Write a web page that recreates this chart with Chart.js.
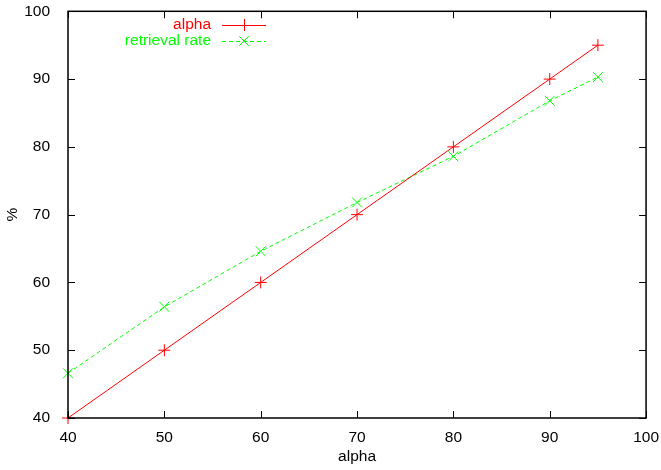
<!DOCTYPE html>
<html>
<head>
<meta charset="utf-8">
<script src="https://cdn.jsdelivr.net/npm/chart.js@4"></script>
<style>
  body { margin: 0; background: #fff; }
  #wrap { width: 661px; height: 470px; }
</style>
</head>
<body>
<div id="wrap"><canvas id="myChart" width="661" height="470"></canvas></div>
<script>
const alphaValues = [40, 50, 60, 70, 80, 90, 95]
const alphaSeries = [40, 50, 60, 70, 80, 90, 95]
const retrievalRate = [46.6, 56.4, 64.6, 71.8, 78.6, 86.8, 90.3]
const xTicks = [40, 50, 60, 70, 80, 90, 100]
const yTicks = [40, 50, 60, 70, 80, 90, 100]

const font = 'Liberation Sans, Arial, sans-serif'
const fontSize = 15.5

// gnuplot style ticks: inward, on all four sides
const innerTicks = {
    id: 'innerTicks',
    afterDraw(chart) {
        const { ctx, chartArea: a, scales } = chart
        ctx.save()
        ctx.strokeStyle = '#000'
        ctx.lineWidth = 1
        ctx.beginPath()
        xTicks.forEach(v => {
            const px = Math.round(scales.x.getPixelForValue(v)) + 0.5
            ctx.moveTo(px, a.bottom); ctx.lineTo(px, a.bottom - 7)
            ctx.moveTo(px, a.top); ctx.lineTo(px, a.top + 7)
        })
        yTicks.forEach(v => {
            const py = Math.round(scales.y.getPixelForValue(v)) + 0.5
            ctx.moveTo(a.left, py); ctx.lineTo(a.left + 7, py)
            ctx.moveTo(a.right, py); ctx.lineTo(a.right - 7, py)
        })
        ctx.stroke()
        ctx.lineWidth = 1.5
        ctx.strokeRect(a.left, a.top, a.right - a.left, a.bottom - a.top)
        ctx.restore()
    }
}

// legend in gnuplot layout: text right aligned, then sample
const keyBox = {
    id: 'keyBox',
    afterDraw(chart) {
        const { ctx } = chart
        ctx.save()
        ctx.font = fontSize + 'px ' + font
        ctx.textAlign = 'right'
        ctx.textBaseline = 'middle'
        chart.data.datasets.forEach((ds, i) => {
            const y = 25 + i * 16
            ctx.fillStyle = ds.borderColor
            ctx.fillText(ds.label, 211, y)
            ctx.strokeStyle = ds.borderColor
            ctx.lineWidth = 1
            ctx.setLineDash(ds.borderDash || [])
            ctx.beginPath()
            ctx.moveTo(222, y + 0.5); ctx.lineTo(266, y + 0.5)
            ctx.stroke()
            ctx.setLineDash([])
            ctx.beginPath()
            const r = 6
            if (ds.pointStyle === 'cross') {
                ctx.moveTo(244 - r, y + 0.5); ctx.lineTo(244 + r, y + 0.5)
                ctx.moveTo(244.5, y - r); ctx.lineTo(244.5, y + r)
            } else {
                const d = r * 0.8
                ctx.moveTo(244 - d, y - d); ctx.lineTo(244 + d, y + d)
                ctx.moveTo(244 - d, y + d); ctx.lineTo(244 + d, y - d)
            }
            ctx.stroke()
        })
        ctx.restore()
    }
}

const config = {
    type: 'line',
    data: {
        datasets: [{
            label: 'alpha',
            data: alphaValues.map((x, i) => ({ x, y: alphaSeries[i] })),
            borderColor: '#ff0000',
            borderWidth: 1,
            pointStyle: 'cross',
            pointRadius: 6,
            pointBorderWidth: 1,
            pointBorderColor: '#ff0000',
            fill: false,
            tension: 0
        }, {
            label: 'retrieval rate',
            data: alphaValues.map((x, i) => ({ x, y: retrievalRate[i] })),
            borderColor: '#00ff00',
            borderWidth: 1,
            borderDash: [4, 3],
            pointStyle: 'crossRot',
            pointRadius: 7,
            pointBorderWidth: 1,
            pointBorderColor: '#00ff00',
            fill: false,
            tension: 0
        }]
    },
    options: {
        responsive: false,
        animation: false,
        clip: false,
        layout: {
            autoPadding: false,
            padding: { top: 11.3, right: 14, left: 0, bottom: 0 }
        },
        plugins: {
            legend: { display: false },
            tooltip: { enabled: false }
        },
        scales: {
            x: {
                type: 'linear',
                min: 40,
                max: 100,
                grid: { display: false },
                border: { display: false },
                afterBuildTicks: s => { s.ticks = xTicks.map(v => ({ value: v })) },
                afterFit: s => { s.height = 52 },
                ticks: { color: '#000', font: { family: font, size: fontSize }, padding: 2, maxRotation: 0 },
                title: { display: true, text: 'alpha', color: '#000', font: { family: font, size: fontSize }, padding: { top: 0 } }
            },
            y: {
                min: 40,
                max: 100,
                grid: { display: false },
                border: { display: false },
                afterBuildTicks: s => { s.ticks = yTicks.map(v => ({ value: v })) },
                afterFit: s => { s.width = 68 },
                ticks: { color: '#000', font: { family: font, size: fontSize, lineHeight: 0.1 }, padding: 10 },
                title: { display: true, text: '%', color: '#000', font: { family: font, size: fontSize }, padding: { top: 3, bottom: 0 } }
            }
        }
    },
    plugins: [innerTicks, keyBox]
}

const myChart = new Chart(document.getElementById('myChart'), config)
</script>
</body>
</html>
